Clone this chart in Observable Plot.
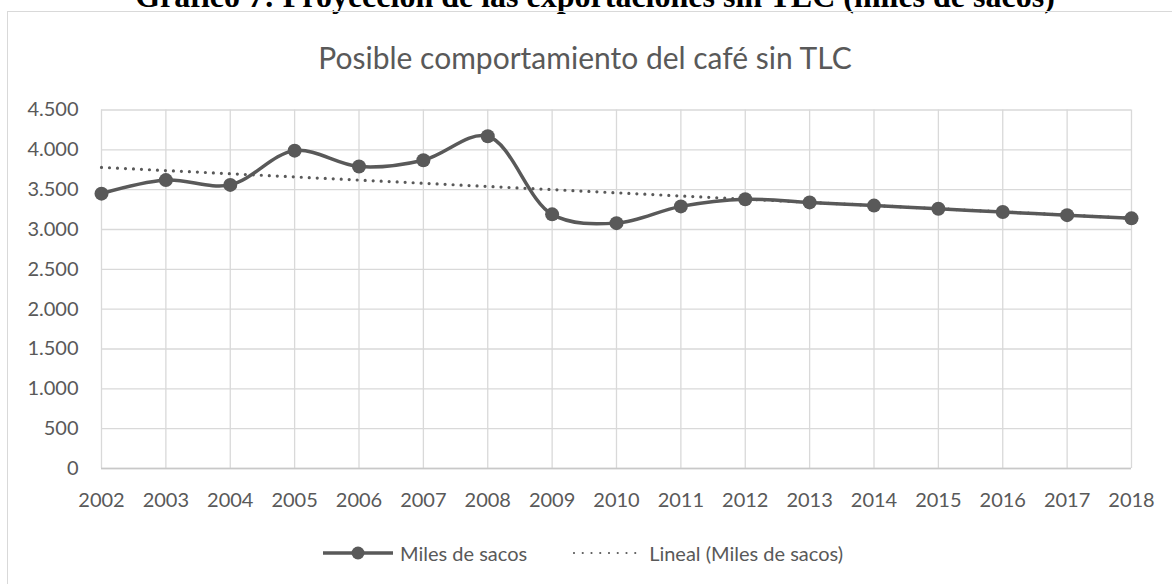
<!DOCTYPE html>
<html>
<head>
<meta charset="utf-8">
<script src="https://cdn.jsdelivr.net/npm/d3@7"></script>
<script src="https://cdn.jsdelivr.net/npm/@observablehq/plot@0.6"></script>
<style>
  html, body { margin: 0; padding: 0; background: #fff; }
  body { width: 1172px; height: 584px; overflow: hidden; position: relative; font-family: Lato, sans-serif; color: #595959; }
  #heading { position: absolute; left: 0; width: 1190px; top: -20px; line-height: 32px; text-align: center;
             font-family: "Liberation Serif", serif; font-weight: bold; font-size: 32px; color: #000; white-space: nowrap; }
  #frame { position: absolute; left: 7px; top: 11px; width: 1300px; height: 700px;
           border-left: 1px solid #d9d9d9; border-top: 1px solid #d9d9d9; }
  #title { position: absolute; left: 0; width: 1170px; top: 39px; line-height: 36px; text-align: center;
           font-size: 30px; color: #595959; white-space: nowrap; }
  #chart { position: absolute; left: 0; top: 90px; }
  #legend { position: absolute; left: 323px; top: 541px; height: 24px; line-height: 24px; display: flex; align-items: center;
            font-size: 20px; color: #595959; white-space: nowrap; }
  #legend svg { display: block; }
</style>
</head>
<body>
<div id="heading">Gráfico 7: Proyección de las exportaciones sin TLC (miles de sacos)</div>
<div id="frame"></div>
<div id="title">Posible comportamiento del café sin TLC</div>
<div id="chart"></div>
<div id="legend"></div>
<script>
// Data
const years = [2002, 2003, 2004, 2005, 2006, 2007, 2008, 2009, 2010, 2011, 2012, 2013, 2014, 2015, 2016, 2017, 2018];
const sacos = [3450, 3620, 3560, 3990, 3790, 3870, 4170, 3190, 3080, 3290, 3380, 3340, 3300, 3260, 3220, 3180, 3140];
const yTicks = [0, 500, 1000, 1500, 2000, 2500, 3000, 3500, 4000, 4500];
const seriesName = "Miles de sacos";
const trendName = "Lineal (Miles de sacos)";

const data = years.map((year, i) => ({year, value: sacos[i]}));

const esLocale = d3.formatLocale({decimal: ",", thousands: ".", grouping: [3], currency: ["", " €"]});
const fmt = esLocale.format(",");

const GRAY = "#595959";
const GRID = "#d9d9d9";

const chart = Plot.plot({
  width: 1172,
  height: 435,
  marginLeft: 101,
  marginRight: 41,
  marginTop: 19.5,
  marginBottom: 57,
  style: {fontFamily: "Lato, sans-serif", fontSize: "20px", color: GRAY, background: "transparent"},
  x: {type: "linear", domain: [years[0], years[years.length - 1]]},
  y: {domain: [0, 4500]},
  marks: [
    Plot.gridY(yTicks, {stroke: GRID, strokeOpacity: 1, strokeWidth: 1.3}),
    Plot.gridX(years, {stroke: GRID, strokeOpacity: 1, strokeWidth: 1.3}),
    Plot.ruleY([0], {stroke: "#c8c8c8", strokeWidth: 1.3}),
    Plot.axisY(yTicks, {tickSize: 0, tickPadding: 23, tickFormat: fmt, label: null, fill: GRAY}),
    Plot.axisX(years, {tickSize: 0, tickPadding: 24, tickFormat: d => String(d), label: null, fill: GRAY}),
    Plot.linearRegressionY(data, {x: "year", y: "value", ci: 0, stroke: GRAY, strokeWidth: 3.2,
      strokeDasharray: "0 8", strokeLinecap: "round"}),
    Plot.line(data, {x: "year", y: "value", curve: "catmull-rom", stroke: GRAY, strokeWidth: 3.5}),
    Plot.dot(data, {x: "year", y: "value", r: 7, fill: GRAY, stroke: "none"})
  ]
});
document.getElementById("chart").appendChild(chart);

// Legend
const legend = document.getElementById("legend");
legend.innerHTML = `
  <svg width="70" height="24"><line x1="0" x2="70" y1="12" y2="12" stroke="${GRAY}" stroke-width="3.5"/>
    <circle cx="35" cy="12" r="6.5" fill="${GRAY}"/></svg>
  <span style="margin-left:7px">${seriesName}</span>
  <svg width="74" height="24" style="margin-left:45px"><line x1="2" x2="72" y1="12" y2="12" stroke="${GRAY}" stroke-width="2.2"
    stroke-dasharray="0 8.75" stroke-linecap="round"/></svg>
  <span style="margin-left:3px">${trendName}</span>`;
</script>
</body>
</html>
